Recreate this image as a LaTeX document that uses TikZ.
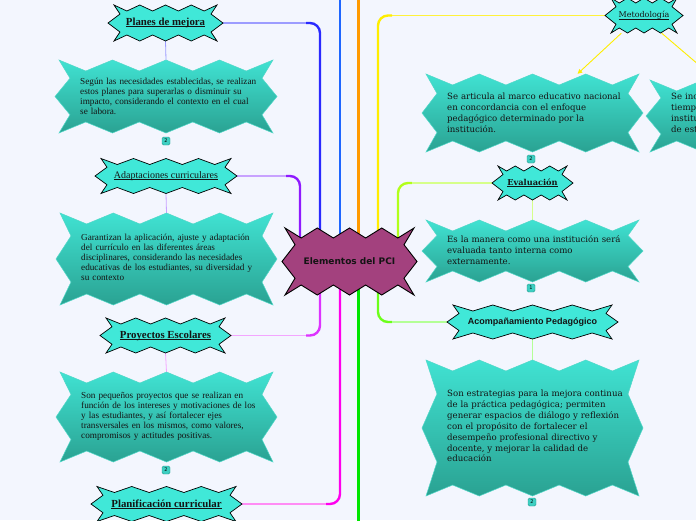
\documentclass[tikz,border=0pt]{standalone}
\usepackage{fontspec}
\setmainfont{Liberation Serif}
\newfontfamily\dvserif{DejaVu Serif}
\newfontfamily\dvsans{DejaVu Sans}
\newfontfamily\lisans{Liberation Sans}
\usetikzlibrary{arrows.meta,calc}
\pgfdeclarelayer{back}
\pgfdeclarelayer{lines}
\pgfsetlayers{back,lines,main}
\definecolor{bgc}{HTML}{F3F6FE}
\definecolor{topicfill}{HTML}{40E8D8}
\definecolor{desctop}{HTML}{40E2D2}
\definecolor{descbot}{HTML}{2AA292}
\definecolor{descline}{HTML}{52D8C8}
\definecolor{cenfill}{HTML}{A3417E}
\definecolor{txtc}{HTML}{141414}
\definecolor{badgefill}{HTML}{3DCFC2}
\definecolor{badgeline}{HTML}{2B9E91}
\definecolor{cPlmD}{HTML}{2A2AFF}
\definecolor{cPlmL}{HTML}{9C9CFF}
\definecolor{cAdcD}{HTML}{8F1AFF}
\definecolor{cAdcL}{HTML}{C8A2FF}
\definecolor{cPreD}{HTML}{DD33FF}
\definecolor{cPreL}{HTML}{F3A6FF}
\definecolor{cPlcD}{HTML}{FF00EE}
\definecolor{cPlcL}{HTML}{FF8CF5}
\definecolor{cMetD}{HTML}{FFEE00}
\definecolor{cMetL}{HTML}{FFF23A}
\definecolor{cEvaD}{HTML}{B2FF1A}
\definecolor{cEvaL}{HTML}{D6FF8A}
\definecolor{cAcpD}{HTML}{6CFF1A}
\definecolor{cAcpL}{HTML}{B4FF96}
\definecolor{cBlue}{HTML}{1F66FF}
\definecolor{cOrange}{HTML}{FF9A00}
\definecolor{cGreen}{HTML}{00E600}
\definecolor{cYel}{HTML}{FFEE00}
\newcommand\ulx[1]{\setbox0\hbox{#1}\rlap{\rule[-1.3pt]{\wd0}{0.55pt}}\box0}
% #1 name, #2 style, #3 cx, #4 cy, #5 half width, #6 half height, #7 peaks, #8 depth, #9 corner inset
\newcommand\zigshape[9]{%
  \pgfmathtruncatemacro\zzN{2*#7}%
  \pgfmathsetmacro\zzA{#5-#9}%
  \path[#2] (#3-\zzA,#4-#6)
    \foreach \k in {1,...,\zzN} { -- ({#3-\zzA+\k*\zzA/#7},{#4-#6+mod(\k,2)*#8}) }
    -- ({#3+\zzA-#8},{#4-#6/2}) -- ({#3+#5},{#4}) -- ({#3+\zzA-#8},{#4+#6/2}) -- ({#3+\zzA},{#4+#6})
    \foreach \k in {1,...,\zzN} { -- ({#3+\zzA-\k*\zzA/#7},{#4+#6-mod(\k,2)*#8}) }
    -- ({#3-\zzA+#8},{#4+#6/2}) -- ({#3-#5},{#4}) -- ({#3-\zzA+#8},{#4-#6/2}) -- cycle;
  \node[inner sep=0pt,minimum width={2*#5 pt},minimum height={2*#6 pt}] (#1) at (#3,#4) {};%
}
\begin{document}
\begin{tikzpicture}[x=1pt,y=-1pt,
  topicshape/.style={draw=black,line width=0.7pt,fill=topicfill},
  descshape/.style={draw=descline,line width=0.5pt,top color=desctop,bottom color=descbot},
  censhape/.style={draw=black,line width=0.9pt,fill=cenfill},
  ltext/.style={anchor=west,align=left,text width=200pt,inner sep=0pt,text=txtc,font=\fontsize{9.2}{10}\selectfont},
  rtext/.style={anchor=west,align=left,text width=200pt,inner sep=0pt,text=txtc,font=\dvserif\fontsize{8.6}{10.9}\selectfont},
  ltopic/.style={inner sep=0pt,text=txtc,font=\bfseries\fontsize{10.8}{12}\selectfont},
  rlabel/.style={inner sep=0pt,text=txtc},
  badge/.style={draw=badgeline,fill=badgefill,rounded corners=1.5pt,minimum width=8pt,minimum height=8pt,inner sep=0pt,line width=0.4pt,font=\dvsans\fontsize{5}{5}\selectfont},
  trunk/.style={line width=2.4pt},
  branch/.style={line width=1.5pt},
  twig/.style={line width=0.8pt},
  yarrow/.style={draw=cYel,line width=0.9pt,-{Triangle[length=4.5pt,width=4.5pt]}}
]
\useasboundingbox (0,0) rectangle (696,520);
\begin{pgfonlayer}{back}
\fill[bgc] (0,0) rectangle (696,520);
\end{pgfonlayer}

% shapes
\zigshape{plm}{topicshape}{165.5}{23}{57.5}{18}{4}{6}{6}
\zigshape{plmd}{descshape}{166}{96.5}{111}{36.5}{4}{11}{4}
\zigshape{adc}{topicshape}{166}{176}{71}{17.5}{4}{6}{6}
\zigshape{adcd}{descshape}{166.5}{259}{110.5}{46}{4}{11}{4}
\zigshape{pre}{topicshape}{165.5}{335.5}{65.5}{17.5}{4}{6}{6}
\zigshape{pred}{descshape}{166.5}{417}{110.5}{45}{4}{11}{4}
\zigshape{plc}{topicshape}{166.5}{504}{75.5}{17.5}{4}{6}{6}
\zigshape{cen}{censhape}{349.5}{261.5}{67.5}{33.5}{4}{10}{3}
\zigshape{met}{topicshape}{644}{15.5}{39}{17.5}{4}{5}{6}
\zigshape{metd}{descshape}{532.5}{113}{110.5}{39}{4}{11}{4}
\zigshape{metdb}{descshape}{756.5}{116}{110.5}{36}{4}{11}{4}
\zigshape{eva}{topicshape}{532.5}{183}{40.5}{17}{4}{5}{6}
\zigshape{evad}{descshape}{532.5}{251}{110.5}{31}{4}{11}{4}
\zigshape{acp}{topicshape}{532.5}{322}{85.5}{17}{4}{6}{6}
\zigshape{acpd}{descshape}{532.5}{428}{110.5}{68}{4}{11}{4}

% connectors
\begin{pgfonlayer}{lines}
\coordinate (colA) at (300,0);
\coordinate (colB) at (320,0);
\coordinate (colC) at (340,0);
\coordinate (colE) at (378,0);
\coordinate (colF) at (398,0);
\coordinate (topB) at (340,-3);
\coordinate (topO) at (358.5,-3);
\coordinate (botG) at (358.5,523);
\coordinate (kplm) at ($(colB |- plm.east)+(-14,0)$);
\draw[trunk,cPlmD,rounded corners=10pt] (colB |- cen.center) |- (kplm);
\draw[branch,cPlmL] (kplm) -- (plm.east);
\coordinate (kadc) at ($(colA |- adc.east)+(-14,0)$);
\draw[trunk,cAdcD,rounded corners=10pt] (colA |- cen.center) |- (kadc);
\draw[branch,cAdcL] (kadc) -- (adc.east);
\coordinate (kpre) at ($(colB |- pre.east)+(-14,0)$);
\draw[trunk,cPreD,rounded corners=10pt] (colB |- cen.center) |- (kpre);
\draw[branch,cPreL] (kpre) -- (pre.east);
\coordinate (kplc) at ($(colC |- plc.east)+(-14,0)$);
\draw[trunk,cPlcD,rounded corners=10pt] (colC |- cen.center) |- (kplc);
\draw[branch,cPlcL] (kplc) -- (plc.east);
\coordinate (kmet) at ($(colE |- met.west)+(14,0)$);
\draw[trunk,cMetD,rounded corners=10pt] (colE |- cen.center) |- (kmet);
\draw[branch,cMetL] (kmet) -- (met.west);
\coordinate (keva) at ($(colF |- eva.west)+(14,0)$);
\draw[trunk,cEvaD,rounded corners=10pt] (colF |- cen.center) |- (keva);
\draw[branch,cEvaL] (keva) -- (eva.west);
\coordinate (kacp) at ($(colE |- acp.west)+(14,0)$);
\draw[trunk,cAcpD,rounded corners=10pt] (colE |- cen.center) |- (kacp);
\draw[branch,cAcpL] (kacp) -- (acp.west);
\draw[trunk,cBlue] (topB) -- (topB |- cen.center);
\draw[trunk,cOrange] (topO) -- (topO |- cen.center);
\draw[trunk,cGreen] (botG) -- (botG |- cen.center);
\draw[twig,cPlmL] (plm.south) -- (plmd.north);
\draw[twig,cAdcL] (adc.south) -- (adcd.north);
\draw[twig,cPreL] (pre.south) -- (pred.north);
\draw[twig,cEvaL] (eva.south) -- (evad.north);
\draw[twig,cAcpL] (acp.south) -- (acpd.north);
\end{pgfonlayer}

\draw[yarrow] (met.-142) -- (metd.41);
\draw[yarrow] (met.-45) -- (metdb.138);

% labels
\node[ltopic] (plml) at (plm.center) {\ulx{Planes de mejora}};
\node[ltopic,font=\fontsize{10}{12}\selectfont] (adcl) at (adc.center) {\ulx{Adaptaciones curriculares}};
\node[ltopic] (prel) at (pre.center) {\ulx{Proyectos Escolares}};
\node[ltopic] (plcl) at (plc.center) {\ulx{Planificación curricular}};
\node[rlabel,font=\dvserif\fontsize{8}{10}\selectfont] (metl) at (met.center) {\ulx{Metodología}};
\node[rlabel,font=\dvserif\bfseries\fontsize{8.2}{10}\selectfont] (eval) at (eva.center) {\ulx{Evaluación}};
\node[rlabel,font=\lisans\bfseries\fontsize{9}{11}\selectfont] (acpl) at (acp.center) {Acompañamiento Pedagógico};
\node[rlabel,font=\dvsans\bfseries\fontsize{9}{11}\selectfont] (cenl) at (cen.center) {Elementos del PCI};

\node[ltext] (plmdt) at (80,96) {Según las necesidades establecidas, se realizan\\estos planes para superarlas o disminuir su\\impacto, considerando el contexto en el cual\\se labora.};
\node[ltext] (adcdt) at (81,257) {Garantizan la aplicación, ajuste y adaptación\\del currículo en las diferentes áreas\\disciplinares, considerando las necesidades\\educativas de los estudiantes, su diversidad y\\su contexto};
\node[ltext] (predt) at (81,416) {Son pequeños proyectos que se realizan en\\función de los intereses y motivaciones de los\\y las estudiantes, y así fortalecer ejes\\transversales en los mismos, como valores,\\compromisos y actitudes positivas.};
\node[rtext] (metdt) at (447,113) {Se articula al marco educativo nacional\\en concordancia con el enfoque\\pedagógico determinado por la\\institución.};
\node[rtext] (metdbt) at (671,113) {Se inc\\tiemp\\institu\\de est};
\node[rtext] (evadt) at (447,250) {Es la manera como una institución será\\evaluada tanto interna como\\externamente.};
\node[rtext] (acpdt) at (447,426) {Son estrategias para la mejora continua\\de la práctica pedagógica; permiten\\generar espacios de diálogo y reflexión\\con el propósito de fortalecer el\\desempeño profesional directivo y\\docente, y mejorar la calidad de\\educación};

% badges
\node[badge] (bga) at (166,141) {2};
\node[badge] (bgb) at (166,470) {2};
\node[badge] (bgc) at (531,159) {2};
\node[badge] (bgd) at (531,288) {1};
\node[badge] (bge) at (532,502) {2};
\end{tikzpicture}
\end{document}
